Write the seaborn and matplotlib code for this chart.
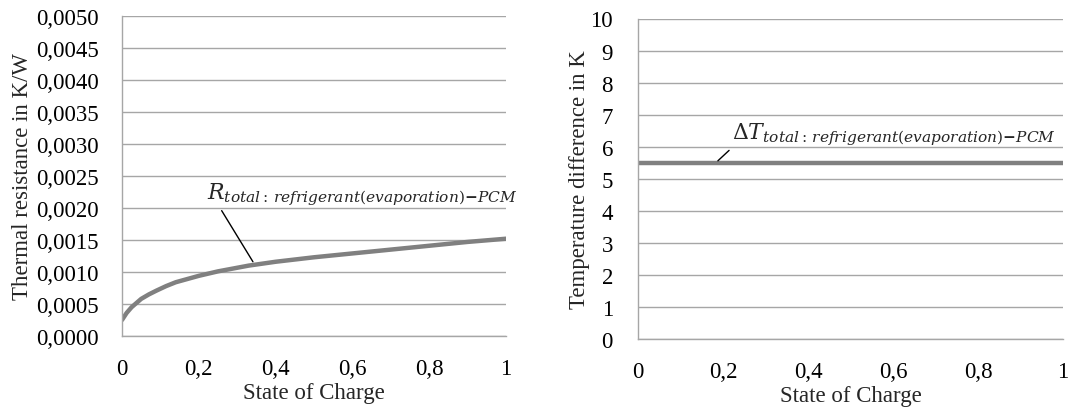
import matplotlib
matplotlib.use("Agg")
import matplotlib.pyplot as plt
import seaborn as sns
import pandas as pd
from matplotlib.ticker import FuncFormatter

# ---- data ----
soc_r = [0, 0.012, 0.025, 0.05, 0.07, 0.09, 0.115, 0.14, 0.17, 0.2, 0.25, 0.33, 0.4,
         0.5, 0.6, 0.7, 0.8, 0.9, 1.0]
r_total = [0.00025, 0.00036, 0.00045, 0.00058, 0.00065, 0.00071, 0.00078, 0.00084,
           0.00089, 0.00094, 0.00101, 0.00110, 0.00116, 0.00123, 0.00129, 0.00135,
           0.00141, 0.00147, 0.00152]
soc_t = [0, 0.25, 0.5, 0.75, 1.0]
dt_total = [5.5, 5.5, 5.5, 5.5, 5.5]

x_ticks = [0, 0.2, 0.4, 0.6, 0.8, 1]
r_ticks = [0.0, 0.0005, 0.0010, 0.0015, 0.0020, 0.0025, 0.0030, 0.0035, 0.0040, 0.0045, 0.0050]
t_ticks = list(range(0, 11))

xlabel = "State of Charge"
ylabel_r = "Thermal resistance in K/W"
ylabel_t = "Temperature difference in K"
label_r = r"$R_{total:\,refrigerant(evaporation)\mathbf{-}PCM}$"
label_t = r"$\Delta T_{total:\,refrigerant(evaporation)\mathbf{-}PCM}$"

sns.set_theme(style="white")
plt.rcParams['font.family'] = ['Liberation Serif', 'DejaVu Serif']
plt.rcParams['mathtext.fontset'] = 'dejavuserif'

df_r = pd.DataFrame({"soc": soc_r, "r": r_total})
df_t = pd.DataFrame({"soc": soc_t, "t": dt_total})

fig = plt.figure(figsize=(10.69, 4.14), dpi=100)
ax1 = fig.add_axes([122 / 1069, 77 / 414, 384 / 1069, 320 / 414])
ax2 = fig.add_axes([638 / 1069, 74 / 414, 425 / 1069, 320.5 / 414])

grid_c = "#a6a6a6"
line_c = "#808080"
fs = 16.5

def style(ax, yticks, ymax, fmt, ypad):
    ax.set_xlim(0, 1)
    ax.set_ylim(0, ymax)
    ax.set_xticks(x_ticks)
    ax.set_yticks(yticks)
    ax.xaxis.set_major_formatter(FuncFormatter(lambda v, p: ("%g" % v).replace(".", ",")))
    ax.yaxis.set_major_formatter(FuncFormatter(fmt))
    ax.grid(axis="y", color=grid_c, linewidth=1.0)
    ax.set_axisbelow(True)
    for s in ["top", "right"]:
        ax.spines[s].set_visible(False)
    for s in ["left", "bottom"]:
        ax.spines[s].set_color(grid_c)
        ax.spines[s].set_linewidth(1.0)
    ax.tick_params(axis="both", direction="out", length=5, width=1, color=grid_c,
                   labelsize=fs, labelcolor="black")
    ax.tick_params(axis="x", pad=11)
    ax.tick_params(axis="y", pad=ypad)
    ax.set_xlabel(xlabel, fontsize=fs, labelpad=2)

sns.lineplot(data=df_r, x="soc", y="r", ax=ax1, color=line_c, linewidth=3.2)
style(ax1, r_ticks, 0.005, lambda v, p: ("%.4f" % v).replace(".", ","), 12)
ax1.set_ylabel(ylabel_r, fontsize=fs, labelpad=2)
ax1.annotate(label_r, xy=(0.341, 0.00116), xytext=(0.222, 0.00201),
             fontsize=15.8, ha="left", va="bottom", annotation_clip=False,
             arrowprops=dict(arrowstyle="-", color="black", linewidth=1,
                             shrinkA=0, shrinkB=0, relpos=(0.04, 0.0)))

sns.lineplot(data=df_t, x="soc", y="t", ax=ax2, color=line_c, linewidth=3.2)
style(ax2, t_ticks, 10, lambda v, p: "%d" % v, 13)
ax2.set_ylabel(ylabel_t, fontsize=fs, labelpad=0)
ax2.annotate(label_t, xy=(0.188, 5.56), xytext=(0.222, 5.98),
             fontsize=15.8, ha="left", va="bottom", annotation_clip=False,
             arrowprops=dict(arrowstyle="-", color="black", linewidth=1,
                             shrinkA=0, shrinkB=0, relpos=(0.0, 0.0)))

fig.savefig("out.png", dpi=100)
